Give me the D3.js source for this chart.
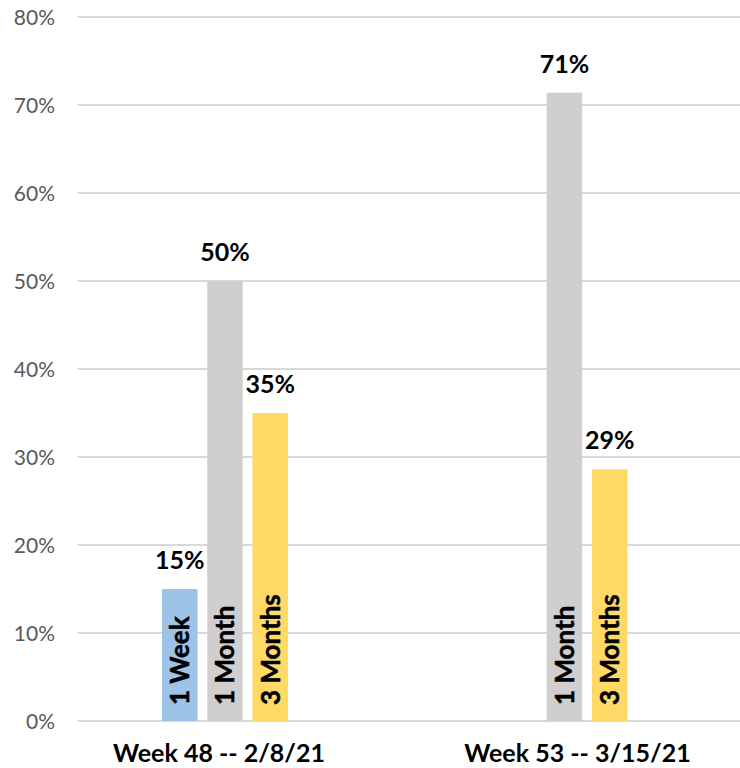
<!DOCTYPE html>
<html><head><meta charset="utf-8">
<script src="https://cdn.jsdelivr.net/npm/d3@7"></script>
<style>body{margin:0;background:#fff}</style>
</head><body>
<svg id="chart" width="740" height="768"></svg>
<script>
const categories = ["Week 48 -- 2/8/21", "Week 53 -- 3/15/21"];
const seriesNames = ["1 Week", "1 Month", "3 Months"];
const oneWeek = [15, null];
const oneMonth = [50, 71.4];
const threeMonths = [35, 28.6];
const seriesColors = ["#9DC3E6", "#D0CECE", "#FFD966"];
const yTicks = [0, 10, 20, 30, 40, 50, 60, 70, 80];

const values = [oneWeek, oneMonth, threeMonths];
const data = [];
categories.forEach((c, ci) => seriesNames.forEach((s, si) => {
  if (values[si][ci] != null) data.push({cat: c, ser: s, val: values[si][ci], color: seriesColors[si]});
}));

const svg = d3.select("#chart");
const font = "Lato, 'Liberation Sans', sans-serif";
const y = d3.scaleLinear().domain([0, 80]).range([721, 17]);
const x0 = d3.scaleBand().domain(categories).range([55.2, 734.2]).paddingInner(0.629).paddingOuter(0.3145);
const x1 = d3.scaleBand().domain(seriesNames).range([0, x0.bandwidth()]).paddingInner(0.215).paddingOuter(0);
const xl = d3.scalePoint().domain(categories).range([219, 577.5]);

// gridlines
svg.append("g").selectAll("line").data(yTicks).join("line")
  .attr("x1", 78).attr("x2", 740)
  .attr("y1", d => y(d)).attr("y2", d => y(d))
  .attr("stroke", "#d9d9d9").attr("stroke-width", 2);

// y tick labels
svg.append("g").selectAll("text").data(yTicks).join("text")
  .attr("x", 55).attr("y", d => y(d)).attr("dy", "0.36em")
  .attr("text-anchor", "end").attr("font-family", font).attr("font-size", 21)
  .attr("fill", "#595959").text(d => d + "%");

// bars
const bars = svg.append("g").selectAll("g").data(data).join("g")
  .attr("transform", d => `translate(${x0(d.cat) + x1(d.ser)},0)`);
bars.append("rect")
  .attr("x", 0).attr("width", x1.bandwidth())
  .attr("y", d => y(d.val)).attr("height", d => y(0) - y(d.val))
  .attr("fill", d => d.color);
// value labels
bars.append("text")
  .attr("x", x1.bandwidth() / 2).attr("y", d => y(d.val) - 20)
  .attr("text-anchor", "middle").attr("font-family", font).attr("font-weight", "bold")
  .attr("font-size", 25).attr("fill", "#000").text(d => Math.round(d.val) + "%");
// inside rotated labels
bars.append("text")
  .attr("transform", d => `translate(${x1.bandwidth() / 2},${y(0) - 16}) rotate(-90)`)
  .attr("dy", "0.36em").attr("text-anchor", "start")
  .attr("font-family", font).attr("font-weight", "bold").attr("font-size", 26)
  .attr("stroke", "#000").attr("stroke-width", 0.5)
  .attr("fill", "#000").text(d => d.ser);

// category labels
svg.append("g").selectAll("text").data(categories).join("text")
  .attr("x", d => xl(d)).attr("y", 762)
  .attr("text-anchor", "middle").attr("font-family", font).attr("font-weight", "bold")
  .attr("font-size", 25).attr("fill", "#000").text(d => d);
</script>
</body></html>
